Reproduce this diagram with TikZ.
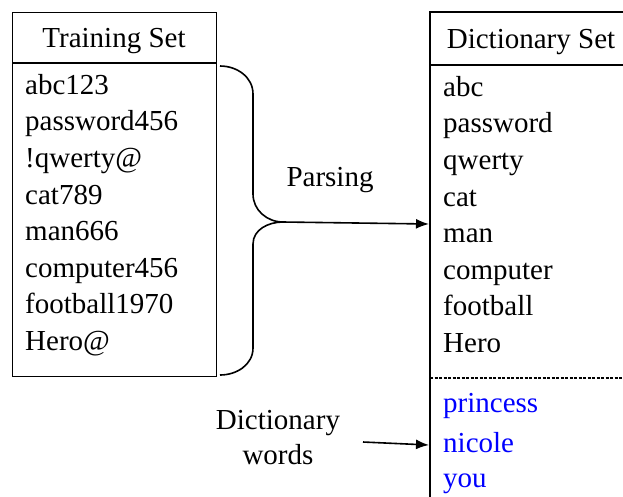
\documentclass[tikz,border=0pt]{standalone}
\usepackage{fontspec}
\setmainfont{Liberation Serif}
\usetikzlibrary{arrows.meta}
\begin{document}
\begin{tikzpicture}[x=1pt,y=-1pt,
  item/.style={anchor=west,inner sep=0pt,font=\fontsize{29}{31}\selectfont,text height=0.68em,text depth=0.22em},
  head/.style={anchor=center,inner sep=0pt,font=\fontsize{29}{31}\selectfont,text height=0.68em,text depth=0.22em},
  bluetext/.style={item,text=blue},
  boxline/.style={line width=1.3pt},
  conn/.style={line width=1.6pt,-{Latex[length=13pt,width=10pt]}}]
\useasboundingbox (0,0) rectangle (623,496);
% Training set box
\node[draw,boxline,minimum width=204pt,minimum height=364pt,anchor=north west,inner sep=0pt] (train) at (12,12) {};
\draw[boxline] (12,63) -- (216,63);
\node[head] (trainhead) at (114,45) {Training Set};
\foreach \t [count=\i] in {abc123,password456,!qwerty@,cat789,man666,computer456,football1970,Hero@}
  \node[item] (t\i) at (25,{92+36.6*(\i-1)}) {\t};
% Dictionary set box (open to the right and bottom)
\draw[line width=1.6pt] (626,12) -- (430,12);
\draw[line width=2.6pt] (430,11) -- (430,500);
\draw[boxline] (430,65) -- (626,65);
\draw[line width=1.1pt,dash pattern=on 3pt off 1.5pt] (430,378) -- (626,378);
\node[head] (dicthead) at (531,46) {Dictionary Set};
\foreach \t [count=\i] in {abc,password,qwerty,cat,man,computer,football,Hero}
  \node[item] (d\i) at (443,{94+36.6*(\i-1)}) {\t};
\node[bluetext] (b1) at (443,410) {princess};
\node[bluetext] (b2) at (443,450) {nicole};
\node[bluetext] (b3) at (443,485) {you};
% Brace
\coordinate (tip) at (283,222);
\draw[line width=1.6pt] (220,66) to[out=0,in=90] (253,94) -- (253,194) to[out=-90,in=180] (tip)
  to[out=180,in=90] (253,244) -- (253,348) to[out=-90,in=0] (220,375);
\coordinate (dictin) at (429,224);
\draw[conn] (tip) -- (dictin);
\node[head] (parsing) at (330,184) {Parsing};
% Dictionary words
\node[head] (dw1) at (278,427) {Dictionary};
\node[head] (dw2) at (278,462) {words};
\coordinate (dwstart) at (363,442);
\coordinate (dictin2) at (429,445);
\draw[conn] (dwstart) -- (dictin2);
\end{tikzpicture}
\end{document}
